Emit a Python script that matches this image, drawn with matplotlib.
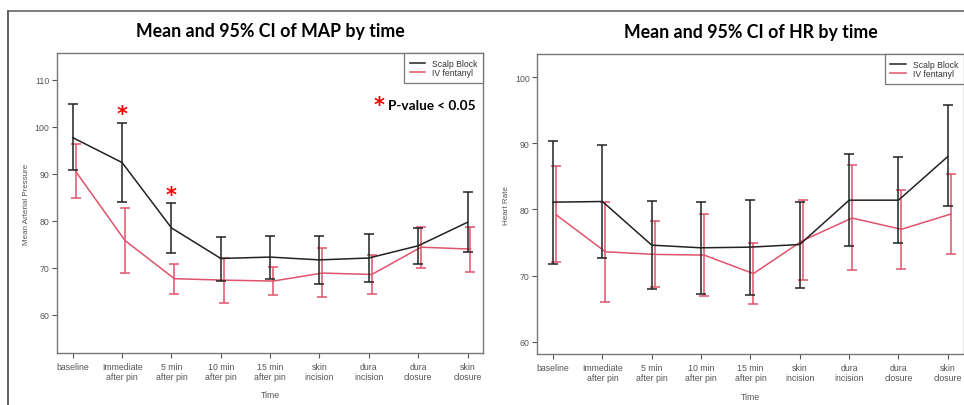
import numpy as np
import matplotlib
matplotlib.use("Agg")
import matplotlib.pyplot as plt
import matplotlib.transforms as mtransforms
from matplotlib.lines import Line2D

times = ["baseline", "Immediate\nafter pin", "5 min\nafter pin", "10 min\nafter pin",
         "15 min\nafter pin", "skin\nincision", "dura\nincision", "dura\nclosure", "skin\nclosure"]

# MAP (mean, lower CI, upper CI)
map_block_mean = [97.7, 92.4, 78.5, 72.0, 72.3, 71.7, 72.1, 74.7, 79.7]
map_block_lo = [90.8, 84.1, 73.2, 67.3, 67.7, 66.5, 67.0, 70.8, 73.3]
map_block_hi = [104.8, 100.9, 83.8, 76.6, 76.8, 76.8, 77.2, 78.4, 86.2]
map_fent_mean = [90.5, 75.8, 67.7, 67.4, 67.2, 68.9, 68.6, 74.4, 74.0]
map_fent_lo = [84.8, 68.9, 64.5, 62.6, 64.2, 63.8, 64.5, 70.0, 69.1]
map_fent_hi = [96.4, 82.7, 70.8, 72.1, 70.1, 74.2, 72.8, 78.7, 78.6]

# HR (mean, lower CI, upper CI)
hr_block_mean = [81.1, 81.2, 74.6, 74.2, 74.3, 74.7, 81.4, 81.4, 88.0]
hr_block_lo = [71.8, 72.7, 67.9, 67.2, 67.0, 68.1, 74.4, 75.0, 80.5]
hr_block_hi = [90.4, 89.7, 81.3, 81.2, 81.5, 81.2, 88.4, 87.9, 95.8]
hr_fent_mean = [79.2, 73.6, 73.2, 73.1, 70.3, 75.3, 78.7, 77.0, 79.3]
hr_fent_lo = [72.1, 66.0, 68.2, 66.9, 65.7, 69.3, 70.8, 71.0, 73.3]
hr_fent_hi = [86.5, 81.1, 78.2, 79.3, 74.9, 81.5, 86.7, 83.0, 85.3]

# significant time points (MAP)
sig_idx = [1, 2]
sig_y = [103.6, 86.3]

BLACK = "#222222"
PINK = "#DF536B"
GRAY = "#555555"

plt.rcParams["font.family"] = "Liberation Sans"

fig = plt.figure(figsize=(9.64, 4.06), dpi=100)

# framing lines of the original image
fig.add_artist(Line2D([8 / 964, 8 / 964], [0, 1 - 12 / 406], color="#444444", lw=1.2))
fig.add_artist(Line2D([8 / 964, 1], [1 - 12 / 406, 1 - 12 / 406], color="#666666", lw=1.2))


def panel(ax, bm, blo, bhi, fm, flo, fhi, ylim, yticks, ylabel, title):
    x = np.arange(1, len(times) + 1)
    bm, blo, bhi = np.array(bm), np.array(blo), np.array(bhi)
    fm, flo, fhi = np.array(fm), np.array(flo), np.array(fhi)
    xf = x + 0.06
    ax.errorbar(x, bm, yerr=[bm - blo, bhi - bm], color=BLACK, lw=1.1,
                elinewidth=1.1, capsize=3.6, capthick=1.1, zorder=3)
    ax.errorbar(xf, fm, yerr=[fm - flo, fhi - fm], color=PINK, lw=1.1,
                elinewidth=1.1, capsize=3.6, capthick=1.1, zorder=2)
    ax.set_xlim(1 - 0.32, 9 + 0.32)
    ax.set_ylim(*ylim)
    ax.set_xticks(x)
    ax.set_xticklabels(times, fontsize=6.3, color=GRAY, linespacing=1.1)
    ax.set_yticks(yticks)
    ax.tick_params(axis="y", labelsize=6.3, labelcolor=GRAY, length=3.5, color=GRAY, pad=2)
    ax.tick_params(axis="x", length=3.5, color=GRAY, pad=3)
    for s in ax.spines.values():
        s.set_color("#777777")
        s.set_linewidth(1.0)
    ax.set_xlabel("Time", fontsize=6.3, color=GRAY, labelpad=7)
    ax.set_ylabel(ylabel, fontsize=5.8, color=GRAY, labelpad=3.5)
    handles = [Line2D([], [], color=BLACK, lw=1.1), Line2D([], [], color=PINK, lw=1.1)]
    leg = ax.legend(handles, ["Scalp Block", "IV fentanyl"], loc="upper right",
                    borderaxespad=0, fancybox=False, fontsize=6.2, handlelength=1.8,
                    handletextpad=0.8, borderpad=0.65, labelspacing=0.1, framealpha=1)
    leg.get_frame().set_edgecolor("#777777")
    leg.get_frame().set_linewidth(0.9)
    for t in leg.get_texts():
        t.set_color("#333333")
    ax.set_title(title, fontsize=12.8, fontweight="bold", family="Lato", pad=12)


ax1 = fig.add_axes([57 / 964, 52 / 406, 426.3 / 964, 300 / 406])
panel(ax1, map_block_mean, map_block_lo, map_block_hi, map_fent_mean, map_fent_lo, map_fent_hi,
      (51.9, 115.7), [60, 70, 80, 90, 100, 110], "Mean Arterial Pressure",
      "Mean and 95% CI of MAP by time")
# the bold asterisk glyph sits high in its box: shift it down a few pixels
star_shift = mtransforms.ScaledTranslation(0, -4 / 100, fig.dpi_scale_trans)
for i, yv in zip(sig_idx, sig_y):
    ax1.text(i + 1, yv, "*", color="red", fontsize=15, fontweight="bold",
             ha="center", va="center", family="DejaVu Sans",
             transform=ax1.transData + star_shift)
ax1.text(0.755, 0.84, "*", color="red", fontsize=15, fontweight="bold",
         ha="center", va="center", transform=ax1.transAxes + star_shift, family="DejaVu Sans")
ax1.text(0.777, 0.827, "P-value < 0.05", color="black", fontsize=9.8, fontweight="bold",
         ha="left", va="center", transform=ax1.transAxes, family="Lato")

ax2 = fig.add_axes([537.3 / 964, 50.7 / 406, 426.3 / 964, 300.3 / 406])
panel(ax2, hr_block_mean, hr_block_lo, hr_block_hi, hr_fent_mean, hr_fent_lo, hr_fent_hi,
      (58.1, 103.5), [60, 70, 80, 90, 100], "Heart Rate",
      "Mean and 95% CI of HR by time")

fig.savefig("out.png", dpi=100)
